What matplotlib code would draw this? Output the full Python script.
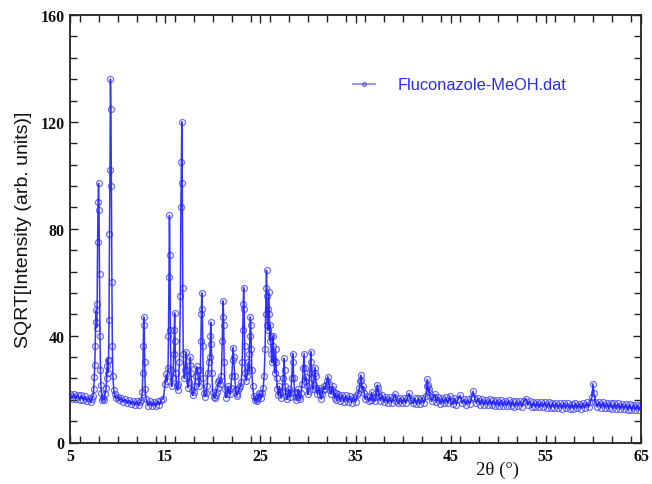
import matplotlib
matplotlib.use("Agg")
import matplotlib.pyplot as plt
from matplotlib.ticker import MultipleLocator, FixedLocator
import numpy as np

# ---------------- data ----------------
# 2theta (deg) / SQRT[Intensity] for consecutive ranges of the pattern
two_theta_a = [5.0, 5.2, 5.4, 5.6, 5.8, 6.0, 6.2, 6.4, 6.6, 6.8,
               7.0, 7.2, 7.3, 7.4, 7.5, 7.55, 7.6, 7.65, 7.7, 7.75,
               7.8, 7.85, 7.9, 7.95, 8.0, 8.05, 8.1, 8.15, 8.2, 8.25,
               8.3, 8.4, 8.5, 8.6, 8.7, 8.8, 8.85, 8.9, 8.95, 9.0,
               9.05, 9.1, 9.15, 9.2, 9.25, 9.3, 9.35, 9.4, 9.45, 9.5,
               9.6, 9.7, 9.8, 10.0, 10.2, 10.4, 10.6, 10.8, 11.0, 11.2,
               11.4, 11.6, 11.8, 12.0, 12.2, 12.4, 12.5, 12.6, 12.65, 12.7,
               12.75, 12.8, 12.85, 12.9, 13.0, 13.2, 13.4, 13.6, 13.8, 14.0,
               14.2, 14.4, 14.6, 14.8]
sqrt_int_a = [18.2, 16.4, 18.3, 16.3, 17.9, 16.0, 17.7, 15.8, 17.3, 15.4,
              16.8, 15.0, 16.3, 17.4, 20.0, 24.5, 29.0, 36.0, 45.0, 49.5,
              43.0, 52.0, 75.0, 90.0, 97.0, 87.0, 63.0, 40.0, 27.0, 21.5,
              18.5, 15.8, 16.6, 15.9, 18.2, 20.5, 24.0, 28.5, 31.0, 26.0,
              31.0, 46.0, 78.0, 102.0, 136.0, 125.0, 96.0, 60.0, 36.0, 25.0,
              19.8, 18.0, 16.5, 17.2, 15.9, 16.6, 15.2, 16.1, 14.7, 15.8,
              14.3, 15.5, 14.0, 15.4, 13.9, 15.0, 15.8, 19.0, 26.0, 36.0,
              47.0, 44.0, 30.0, 20.0, 16.2, 13.7, 15.5, 13.6, 15.3, 13.7,
              15.4, 14.1, 16.0, 16.4]

two_theta_b = [15.0, 15.1, 15.2, 15.3, 15.35, 15.4, 15.45, 15.5, 15.55, 15.6,
               15.7, 15.8, 15.9, 15.95, 16.0, 16.05, 16.1, 16.2, 16.3, 16.4,
               16.5, 16.6, 16.65, 16.7, 16.75, 16.8, 16.85, 16.9, 17.0, 17.1,
               17.2, 17.3, 17.4, 17.5, 17.6, 17.65, 17.7, 17.8, 17.9, 18.0,
               18.1, 18.2, 18.3, 18.4, 18.5, 18.6, 18.7, 18.75, 18.8, 18.85,
               18.9, 18.95, 19.0, 19.1, 19.2, 19.3, 19.4, 19.5, 19.6, 19.7,
               19.75, 19.8, 19.85, 19.9, 20.0, 20.1, 20.2, 20.3, 20.4, 20.5,
               20.6, 20.7, 20.8, 20.9, 21.0, 21.05, 21.1, 21.15, 21.2, 21.3,
               21.4, 21.5, 21.6, 21.7, 21.8, 21.9, 22.0, 22.1, 22.15, 22.2,
               22.3, 22.4, 22.5, 22.6, 22.7, 22.8, 22.9, 23.0, 23.1, 23.15,
               23.2, 23.25, 23.3, 23.35, 23.4, 23.5, 23.6, 23.7, 23.75, 23.8,
               23.85, 23.9, 23.95, 24.0, 24.05, 24.1, 24.2, 24.3, 24.4, 24.5,
               24.6, 24.7, 24.8, 24.9]
sqrt_int_b = [22.0, 25.5, 23.0, 28.0, 40.0, 62.0, 85.0, 70.0, 42.0, 27.0,
              21.0, 24.0, 33.0, 42.0, 48.5, 38.0, 26.0, 21.0, 19.5, 22.0,
              30.0, 55.0, 88.0, 105.0, 120.0, 97.0, 58.0, 33.0, 24.0, 27.0,
              34.0, 25.0, 20.5, 22.5, 29.0, 32.0, 26.0, 19.5, 17.6, 18.8,
              21.0, 25.0, 28.5, 27.0, 23.0, 21.0, 27.0, 38.0, 48.0, 56.0,
              50.0, 36.0, 24.0, 18.5, 17.2, 18.5, 21.0, 26.0, 30.0, 32.0,
              40.0, 45.0, 37.0, 26.0, 19.0, 17.0, 16.5, 17.8, 19.0, 20.5,
              22.5, 23.5, 22.0, 25.0, 38.0, 47.0, 53.0, 44.0, 30.0, 20.0,
              16.8, 18.0, 21.0, 19.5, 18.0, 20.5, 25.0, 31.0, 35.5, 32.0,
              25.0, 20.0, 17.5, 18.2, 19.5, 20.5, 21.0, 22.5, 30.0, 42.0,
              52.0, 58.0, 50.0, 36.0, 26.0, 23.0, 25.0, 28.0, 30.0, 27.0,
              33.0, 40.0, 47.0, 44.0, 35.0, 27.0, 21.0, 17.5, 15.8, 16.5,
              15.5, 16.4, 17.2, 18.4]

two_theta_c = [25.0, 25.1, 25.2, 25.3, 25.4, 25.5, 25.55, 25.6, 25.65, 25.7,
               25.75, 25.8, 25.85, 25.9, 25.95, 26.0, 26.05, 26.1, 26.15, 26.2,
               26.3, 26.35, 26.4, 26.5, 26.6, 26.65, 26.7, 26.8, 26.9, 27.0,
               27.1, 27.2, 27.3, 27.4, 27.5, 27.55, 27.6, 27.7, 27.8, 27.9,
               28.0, 28.1, 28.2, 28.3, 28.4, 28.45, 28.5, 28.6, 28.7, 28.8,
               28.9, 29.0, 29.1, 29.2, 29.3, 29.4, 29.5, 29.6, 29.65, 29.7,
               29.8, 29.9, 30.0, 30.1, 30.2, 30.3, 30.35, 30.4, 30.5, 30.6,
               30.7, 30.75, 30.8, 30.9, 31.0, 31.1, 31.2, 31.3, 31.4, 31.5,
               31.6, 31.7, 31.8, 31.9, 32.0, 32.1, 32.2, 32.3, 32.4, 32.5,
               32.6, 32.7, 32.8, 32.9]
sqrt_int_c = [18.0, 16.6, 18.5, 20.5, 25.0, 35.0, 48.0, 58.0, 64.5, 55.0,
              44.0, 42.0, 50.0, 56.5, 48.0, 38.0, 44.0, 40.0, 33.0, 30.0,
              36.0, 40.0, 31.0, 26.0, 35.0, 30.0, 24.0, 20.0, 17.6, 21.0,
              18.6, 16.6, 18.8, 24.0, 31.5, 27.0, 21.0, 17.5, 16.2, 18.4,
              20.0, 17.0, 18.4, 24.0, 33.3, 30.0, 24.0, 19.0, 17.0, 15.9,
              18.4, 20.0, 17.0, 16.4, 18.4, 22.0, 28.0, 33.3, 28.0, 23.0,
              24.5, 21.0, 18.0, 19.4, 26.0, 34.0, 30.0, 24.0, 20.0, 21.5,
              26.0, 28.0, 25.0, 20.5, 18.0, 19.8, 20.5, 17.6, 16.3, 18.2,
              19.5, 21.0, 20.0, 21.5, 23.0, 24.7, 22.0, 19.5, 18.2, 20.0,
              21.0, 19.0, 16.6, 18.4]

two_theta_d = [33.0, 33.2, 33.4, 33.6, 33.8, 34.0, 34.2, 34.4, 34.6, 34.8,
               35.0, 35.2, 35.3, 35.4, 35.5, 35.55, 35.6, 35.7, 35.8, 35.9,
               36.0, 36.2, 36.4, 36.5, 36.6, 36.7, 36.8, 37.0, 37.1, 37.2,
               37.3, 37.35, 37.4, 37.5, 37.6, 37.8, 38.0, 38.2, 38.4, 38.6,
               38.8, 39.0, 39.15, 39.3, 39.5, 39.7, 39.9, 40.1, 40.3, 40.5,
               40.65, 40.8, 41.0, 41.2, 41.4, 41.6, 41.8, 42.0, 42.2, 42.4,
               42.5, 42.55, 42.6, 42.7, 42.75, 42.8, 43.0, 43.2, 43.35, 43.5,
               43.7, 43.9, 44.1, 44.3, 44.5, 44.7, 44.9, 45.0]
sqrt_int_d = [15.8, 18.2, 15.4, 17.8, 15.2, 17.6, 15.0, 17.4, 14.9, 17.2,
              15.2, 17.6, 18.5, 20.5, 23.0, 25.2, 23.5, 20.0, 21.0, 18.5,
              16.2, 17.4, 15.4, 17.0, 16.0, 18.8, 16.6, 15.4, 17.2, 18.5,
              21.5, 20.5, 19.0, 17.5, 15.6, 17.8, 15.0, 17.2, 14.7, 17.0,
              14.9, 17.0, 18.0, 15.6, 14.6, 16.8, 14.6, 16.6, 14.8, 17.0,
              18.4, 15.8, 14.6, 16.6, 14.3, 16.6, 14.5, 16.8, 14.8, 17.5,
              21.0, 23.6, 21.5, 19.0, 20.0, 17.5, 15.4, 17.0, 18.0, 15.0,
              16.9, 14.4, 16.7, 14.6, 16.9, 14.7, 17.4, 15.4]

two_theta_e = [45.2, 45.4, 45.6, 45.8, 46.0, 46.2, 46.4, 46.6, 46.8, 47.0,
               47.2, 47.35, 47.5, 47.7, 47.9, 48.1, 48.3, 48.5, 48.7, 48.9,
               49.1, 49.3, 49.5, 49.7, 49.9, 50.1, 50.3, 50.5, 50.7, 50.9,
               51.1, 51.3, 51.5, 51.7, 51.9, 52.1, 52.3, 52.5, 52.7, 52.9,
               53.1, 53.3, 53.5, 53.7, 53.9, 54.1, 54.3, 54.5, 54.7, 54.9,
               55.1, 55.3, 55.5, 55.7, 55.9, 56.1, 56.3, 56.5, 56.7, 56.9,
               57.1, 57.3, 57.5, 57.7, 57.9, 58.1, 58.3, 58.5, 58.7, 58.9,
               59.1, 59.3, 59.5, 59.7, 59.85, 59.95, 60.05, 60.2, 60.4, 60.6,
               60.8, 61.0, 61.2, 61.4, 61.6, 61.8, 62.0, 62.2, 62.4, 62.6,
               62.8, 63.0, 63.2, 63.4, 63.6, 63.8, 64.0, 64.2, 64.4, 64.6,
               64.8, 65.0]
sqrt_int_e = [14.4, 16.5, 14.2, 16.4, 17.6, 14.6, 16.3, 14.1, 16.2, 14.4,
              17.0, 19.2, 16.8, 14.6, 16.6, 14.1, 16.3, 14.0, 16.0, 13.9,
              16.2, 14.0, 15.9, 13.8, 15.9, 13.7, 15.8, 13.6, 15.6, 13.8,
              15.8, 13.5, 15.5, 13.4, 15.4, 13.6, 15.5, 13.4, 15.6, 16.3,
              13.9, 15.4, 13.2, 15.2, 13.2, 15.3, 13.1, 15.1, 13.3, 15.2,
              13.0, 15.0, 12.9, 14.9, 13.0, 14.8, 12.8, 14.7, 12.7, 14.9,
              12.8, 14.6, 12.6, 14.5, 12.7, 14.7, 12.8, 14.5, 12.7, 14.8,
              13.0, 15.0, 13.2, 15.3, 17.0, 22.0, 18.5, 15.3, 13.3, 15.2,
              13.0, 15.1, 12.9, 14.9, 12.8, 14.8, 12.7, 14.7, 12.6, 14.6,
              12.5, 14.5, 12.4, 14.4, 12.3, 14.3, 12.2, 14.2, 12.2, 14.1,
              12.1, 13.9]

series_label = "Fluconazole-MeOH.dat"
x_ticks = [5, 15, 25, 35, 45, 55, 65]
y_ticks = [0, 40, 80, 120, 160]

for xs, ys in [(two_theta_a, sqrt_int_a), (two_theta_b, sqrt_int_b),
               (two_theta_c, sqrt_int_c), (two_theta_d, sqrt_int_d),
               (two_theta_e, sqrt_int_e)]:
    assert len(xs) == len(ys), (len(xs), len(ys), xs[0])

two_theta = np.concatenate([two_theta_a, two_theta_b, two_theta_c,
                            two_theta_d, two_theta_e])
sqrt_int = np.concatenate([sqrt_int_a, sqrt_int_b, sqrt_int_c,
                           sqrt_int_d, sqrt_int_e])

# ---------------- figure ----------------
W, H = 652, 485
fig = plt.figure(figsize=(W / 100, H / 100), dpi=100)
L, R, T, B = 70, 641, 16, 443.5
ax = fig.add_axes([L / W, (H - B) / H, (R - L) / W, (B - T) / H])

blue = "#1e1eff"
ax.plot(two_theta, sqrt_int, color=blue, lw=1.1, alpha=0.9, zorder=3)
ax.plot(two_theta, sqrt_int, ls="none", marker="o", ms=4.3,
        mfc="none", mec="#4040ff", mew=0.9, alpha=0.75, zorder=2)

# legend proxy
ax.plot([], [], color="#8080ff", lw=1.2, marker="o", ms=2.5,
        mfc="none", mec="#6060ff", label=series_label)
leg = ax.legend(loc="center left",
                bbox_to_anchor=((353 - L) / (R - L), (B - 86) / (B - T)),
                frameon=False, borderpad=0, borderaxespad=0,
                handlelength=1.35, handletextpad=1.4, numpoints=1,
                prop={"family": "Liberation Sans", "size": 11.8})
for t in leg.get_texts():
    t.set_color("#2a2aff")

ax.set_xlim(5, 65)
ax.set_ylim(0, 160)
ax.xaxis.set_major_locator(FixedLocator(x_ticks))
ax.xaxis.set_minor_locator(MultipleLocator(2))
ax.yaxis.set_major_locator(FixedLocator(y_ticks))
ax.yaxis.set_minor_locator(MultipleLocator(8))

ax.tick_params(which="both", direction="in", top=True, right=True,
               color="#222222", width=1.0)
ax.tick_params(which="major", length=6, pad=4)
ax.tick_params(which="minor", length=5)
for lab in ax.get_xticklabels() + ax.get_yticklabels():
    lab.set_family("Liberation Serif")
    lab.set_fontweight("bold")
    lab.set_fontsize(11.5)
    lab.set_color("#111111")

for s in ax.spines.values():
    s.set_color("#222222")
    s.set_linewidth(1.3)

ax.set_ylabel("SQRT[Intensity (arb. units)]", family="Liberation Sans",
              fontsize=14, color="#111111", labelpad=6)
ax.set_xlabel("2θ (°)", family="Liberation Serif", fontsize=13.5,
              color="#111111")
ax.xaxis.set_label_coords((497 - L) / (R - L), -(470 - B) / (B - T))
ax.xaxis.label.set_verticalalignment("center")

fig.savefig("out.png", dpi=100)
